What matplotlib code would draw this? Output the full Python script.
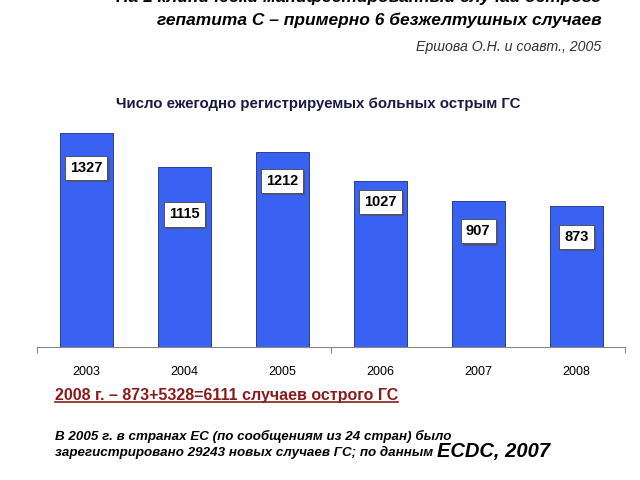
import matplotlib
matplotlib.use("Agg")
import matplotlib.pyplot as plt
import matplotlib.patheffects as pe
import numpy as np

plt.rcParams['font.family'] = ['Liberation Sans', 'DejaVu Sans']

# data
years = ['2003', '2004', '2005', '2006', '2007', '2008']
cases = [1327, 1115, 1212, 1027, 907, 873]
# how far below the bar top each value box sits (points)
label_drop = [25, 34, 21, 15, 22, 22]

fig = plt.figure(figsize=(6.4, 4.8), dpi=100)
ax = fig.add_axes([0.058, 0.277, 0.919, 0.515])

x = np.arange(len(years))
ax.bar(x, cases, width=0.54, color='#3a62f2', edgecolor='#1a2a80', linewidth=0.6)
ax.set_xlim(-0.5, len(years) - 0.5)
ax.set_ylim(0, 1533)

for xi, v, d in zip(x, cases, label_drop):
    t = ax.annotate(str(v), (xi, v), xytext=(0, -d), textcoords='offset points',
                    ha='center', va='center', fontsize=10.5, fontweight='bold',
                    bbox=dict(boxstyle='square,pad=0.35', fc='white', ec='#444444', lw=0.6))
    t.get_bbox_patch().set_path_effects([pe.SimplePatchShadow(offset=(1.5, -1.5), alpha=0.6), pe.Normal()])

for s in ['top', 'right', 'left']:
    ax.spines[s].set_visible(False)
ax.spines['bottom'].set_color('#888888')
ax.set_yticks([])
ax.set_xticks([-0.5, 2.5, 5.5])
ax.set_xticklabels([])
ax.tick_params(axis='x', length=4, color='#888888', direction='out')
for xi, yr in zip(x, years):
    ax.text(xi, -0.1, yr, transform=ax.get_xaxis_transform(), ha='center', va='center', fontsize=9)

fig.text(0.497, 0.783, 'Число ежегодно регистрируемых больных острым ГС', ha='center', va='center',
         fontsize=10.8, fontweight='bold', color='#1a1a4a')

# header text
fig.text(0.94, 1.005, 'На 1 клинически манифестированный случай острого', ha='right', va='center',
         fontsize=12.5, fontweight='bold', style='italic')
fig.text(0.94, 0.957, 'гепатита С – примерно 6 безжелтушных случаев', ha='right', va='center',
         fontsize=12.5, fontweight='bold', style='italic')
fig.text(0.94, 0.902, 'Ершова О.Н. и соавт., 2005', ha='right', va='center',
         fontsize=10.2, style='italic', color='#333333')

# red note with underline
red = fig.text(0.086, 0.177, '2008 г. – 873+5328=6111 случаев острого ГС', ha='left', va='center',
               fontsize=11.5, fontweight='bold', color='#8b1a1a')
fig.canvas.draw()
bb = red.get_window_extent().transformed(fig.transFigure.inverted())
fig.add_artist(plt.Line2D([bb.x0, bb.x1], [bb.y0 + 0.002, bb.y0 + 0.002], color='#8b1a1a', lw=1.2))

fig.text(0.086, 0.091, 'В 2005 г. в странах ЕС (по сообщениям из 24 стран) было', ha='left', va='center',
         fontsize=9.6, fontweight='bold', style='italic')
t2 = fig.text(0.086, 0.058, 'зарегистрировано 29243 новых случаев ГС; по данным ', ha='left', va='center',
              fontsize=9.6, fontweight='bold', style='italic')
fig.canvas.draw()
bb2 = t2.get_window_extent().transformed(fig.transFigure.inverted())
fig.text(bb2.x1, 0.06, 'ECDC, 2007', ha='left', va='center',
         fontsize=14.5, fontweight='bold', style='italic')

fig.savefig('out.png', dpi=100)
